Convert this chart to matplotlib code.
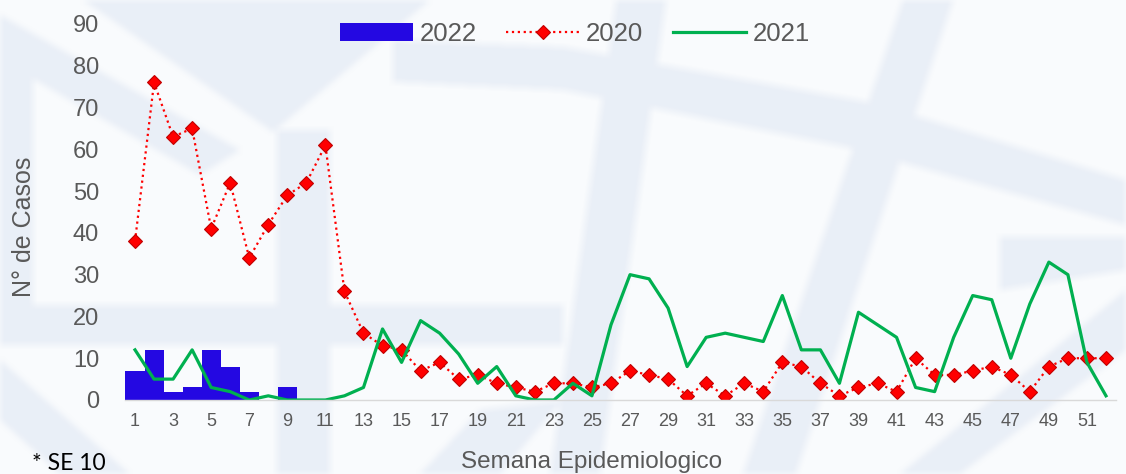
import matplotlib
matplotlib.use('Agg')
import matplotlib.pyplot as plt
from matplotlib.path import Path
import numpy as np

# Casos por semana epidemiologica
semanas = list(range(1, 53))
casos_2022 = [7, 12, 2, 3, 12, 8, 2, 0, 3]
casos_2020 = [38, 76, 63, 65, 41, 52, 34, 42, 49, 52, 61, 26, 16, 13, 12, 7,
              9, 5, 6, 4, 3, 2, 4, 4, 3, 4, 7, 6, 5, 1, 4, 1, 4, 2, 9, 8,
              4, 1, 3, 4, 2, 10, 6, 6, 7, 8, 6, 2, 8, 10, 10, 10]
casos_2021 = [12, 5, 5, 12, 3, 2, 0, 1, 0, 0, 0, 1, 3, 17, 9, 19, 16, 11,
              4, 8, 1, 0, 0, 4, 1, 18, 30, 29, 22, 8, 15, 16, 15, 14, 25, 12,
              12, 4, 21, 18, 15, 3, 2, 15, 25, 24, 10, 23, 33, 30, 9, 1]
ticks_y = [0, 10, 20, 30, 40, 50, 60, 70, 80, 90]
ticks_x = list(range(1, 53, 2))

W, H = 1126, 474
GRIS = '#595959'

plt.rcParams['font.family'] = ['Liberation Sans', 'DejaVu Sans']

fig = plt.figure(figsize=(W / 100, H / 100), dpi=100, facecolor='#F9FBFD')

# marca de agua de fondo (poligonos en pixeles, y hacia abajo), suavizada
fondo = [
    [(83, 0), (273, 132), (430, 0)],
    [(0, 15), (0, 60), (200, 175), (240, 150)],
    [(0, 60), (33, 60), (33, 310), (0, 310)],
    [(0, 305), (563, 305), (563, 345), (0, 345)],
    [(277, 130), (330, 130), (330, 474), (277, 474)],
    [(393, 40), (563, 47), (873, 103), (1126, 180), (1126, 225),
     (846, 147), (563, 90), (393, 82)],
    [(616, 0), (666, 0), (600, 474), (550, 474)],
    [(903, 0), (953, 0), (796, 474), (743, 474)],
    [(900, 474), (960, 474), (1126, 350), (1126, 290)],
    [(1000, 237), (1126, 237), (1126, 270), (1000, 290)],
    [(0, 420), (60, 474), (130, 474), (0, 360)],
    [(420, 474), (500, 474), (563, 400), (480, 410)],
]
yy, xx = np.mgrid[0:H, 0:W]
centros = np.column_stack([xx.ravel() + 0.5, yy.ravel() + 0.5])
mascara = np.zeros(H * W)
for poly in fondo:
    mascara = np.maximum(mascara, Path(poly).contains_points(centros))
mascara = mascara.reshape(H, W)

k = np.ones(9) / 9
mascara = np.apply_along_axis(lambda f: np.convolve(f, k, mode='same'), 1, mascara)
mascara = np.apply_along_axis(lambda c: np.convolve(c, k, mode='same'), 0, mascara)
mascara *= 0.85

claro = np.array([0xF9, 0xFB, 0xFD]) / 255
azul = np.array([0xE7, 0xED, 0xF6]) / 255
img = claro * (1 - mascara[..., None]) + azul * mascara[..., None]
fig.figimage(img, 0, 0, origin='upper', zorder=-10)

ax = fig.add_axes([125.5 / W, 74 / H, 990 / W, 376 / H])
ax.set_zorder(1)
ax.set_facecolor('none')

barras = ax.bar(semanas[:len(casos_2022)], casos_2022, width=1.0,
                color='#2408E2', label='2022', zorder=2)
l2020, = ax.plot(semanas, casos_2020, color='#FF0000', linestyle=':',
                 linewidth=1.6, marker='D', markersize=7,
                 markerfacecolor='#FF0000', markeredgecolor='#C00000',
                 markeredgewidth=0.8, label='2020', zorder=3)
l2021, = ax.plot(semanas, casos_2021, color='#00B050', linewidth=2.3,
                 label='2021', zorder=4)

ax.set_xlim(0.5, 52.5)
ax.set_ylim(0, 90)
ax.set_xticks(ticks_x)
ax.set_yticks(ticks_y)
ax.tick_params(axis='x', length=0, pad=9, labelsize=13, labelcolor=GRIS)
ax.tick_params(axis='y', length=0, pad=19, labelsize=17, labelcolor=GRIS)

for lado in ['top', 'right', 'left']:
    ax.spines[lado].set_visible(False)
ax.spines['bottom'].set_color('#D9D9D9')
ax.spines['bottom'].set_linewidth(1.0)
ax.spines['bottom'].set_zorder(5)

ax.set_ylabel('N° de Casos', fontsize=18, color=GRIS, va='center')
ax.yaxis.set_label_coords((24 - 125.5) / 990, (400 - 227) / 376)
ax.set_xlabel('Semana Epidemiologico', fontsize=17.5, color=GRIS, va='center')
ax.xaxis.set_label_coords((592 - 125.5) / 990, (400 - 462) / 376)

ax.legend([barras, l2020, l2021], ['2022', '2020', '2021'],
          loc='center', bbox_to_anchor=(575 / W, 1 - 34 / H),
          bbox_transform=fig.transFigure, ncol=3, frameon=False,
          fontsize=18.5, labelcolor=GRIS, handlelength=2.85,
          handleheight=0.74, handletextpad=0.25, columnspacing=1.15)

fig.text(32 / W, 1 - 463 / H, '* SE 10', fontsize=16.5, family='Lato',
         color='black', va='center', ha='left')

fig.savefig('out.png', dpi=100, facecolor=fig.get_facecolor())
